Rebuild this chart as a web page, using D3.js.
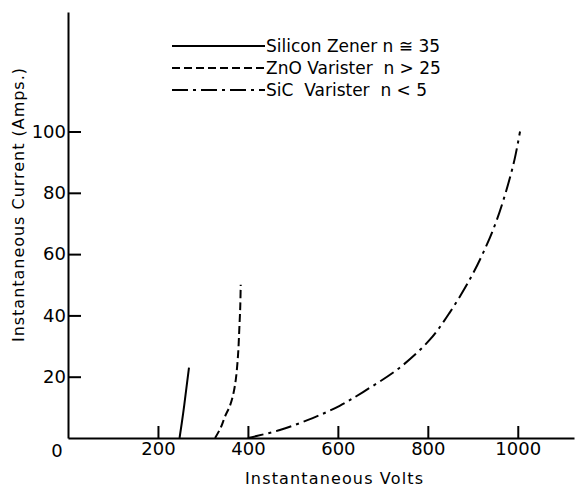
<!DOCTYPE html>
<html>
<head>
<meta charset="utf-8">
<script src="https://cdn.jsdelivr.net/npm/d3@7"></script>
<style>
  body { margin: 0; background: #fff; }
  text { font-family: "DejaVu Sans", sans-serif; fill: #000; }
</style>
</head>
<body>
<script>
// values
var xTicks = [200, 400, 600, 800, 1000];
var yTicks = [20, 40, 60, 80, 100];

var zenerV = [248, 256, 263, 269];
var zenerI = [0, 8, 16, 23];

var znoV = [327, 340, 349, 360, 367, 373, 378, 381, 383, 384];
var znoI = [0, 3.5, 7, 10.5, 14, 19, 27, 36, 43, 50];

var sicV = [400, 471, 544, 604, 656, 738, 804, 849, 898, 931, 953, 975, 993, 1005];
var sicI = [0, 2.6, 6.5, 10.5, 15, 23, 32, 41, 53, 63, 71, 81, 91, 100];

var seriesNames = ["Silicon Zener n \u2245 35", "ZnO Varister  n > 25", "SiC  Varister  n < 5"];
var dashes = [null, "8,4", "16,5,3,5"];

var W = 575, H = 487;
var svg = d3.select("body").append("svg").attr("width", W).attr("height", H);

var x = d3.scaleLinear().domain([0, 1125]).range([68, 574]);
var y = d3.scaleLinear().domain([0, 139]).range([438, 12]);

// axes, ticks pointing into the plot
var xAxis = d3.axisBottom(x).tickValues(xTicks).tickFormat(d3.format("d"))
  .tickSizeInner(-12).tickSizeOuter(0).tickPadding(4);
var gx = svg.append("g").attr("transform", "translate(0," + y(0) + ")").call(xAxis);
gx.select(".domain").attr("stroke-width", 2);
gx.selectAll(".tick line").attr("stroke-width", 2);
gx.selectAll(".tick text").style("font-size", "18px").attr("font-family", null);

var yAxis = d3.axisLeft(y).tickValues(yTicks).tickSizeInner(-13).tickSizeOuter(0).tickPadding(2);
var gy = svg.append("g").attr("transform", "translate(" + x(0) + ",0)").call(yAxis);
gy.select(".domain").attr("stroke-width", 2);
gy.selectAll(".tick line").attr("stroke-width", 2);
gy.selectAll(".tick text").style("font-size", "18px").attr("font-family", null);

// origin label
svg.append("text").attr("x", 57).attr("y", 457).attr("text-anchor", "middle")
  .style("font-size", "18px").text("0");

// axis titles
svg.append("text").attr("x", 245).attr("y", 484)
  .attr("textLength", 178).attr("lengthAdjust", "spacing")
  .style("font-size", "16px").text("Instantaneous Volts");
svg.append("text").attr("transform", "translate(24,342) rotate(-90)")
  .attr("textLength", 274).attr("lengthAdjust", "spacing")
  .style("font-size", "16px").text("Instantaneous Current (Amps.)");

// curves
var line = d3.line().x(function (d) { return x(d[0]); }).y(function (d) { return y(d[1]); })
  .curve(d3.curveCatmullRom);
var series = [d3.zip(zenerV, zenerI), d3.zip(znoV, znoI), d3.zip(sicV, sicI)];
series.forEach(function (pts, i) {
  svg.append("path").datum(pts).attr("d", line)
    .attr("fill", "none").attr("stroke", "#000").attr("stroke-width", 2)
    .attr("stroke-dasharray", dashes[i]);
});

// legend
var legY = [46, 68, 90];
seriesNames.forEach(function (name, i) {
  svg.append("line").attr("x1", 172).attr("x2", 265).attr("y1", legY[i]).attr("y2", legY[i])
    .attr("stroke", "#000").attr("stroke-width", 2).attr("stroke-dasharray", dashes[i]);
  svg.append("text").attr("x", 266).attr("y", legY[i] + 6).style("font-size", "17px")
    .attr("xml:space", "preserve").style("white-space", "pre").text(name);
});
</script>
</body>
</html>
